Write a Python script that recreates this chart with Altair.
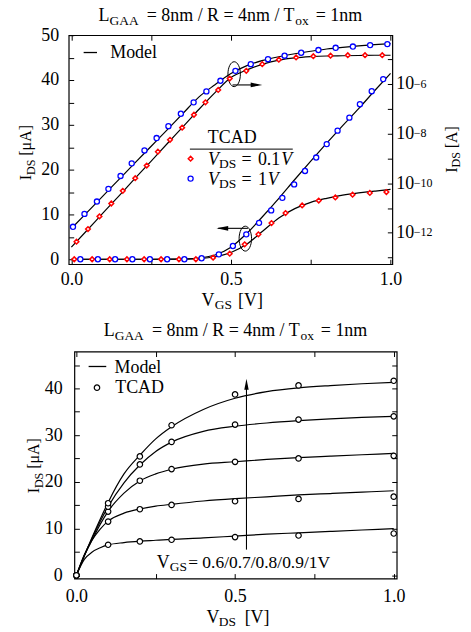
import altair as alt
import pandas as pd

FONT = "Liberation Serif"
RED = "#ff0000"
BLUE = "#0000ff"

# ---------------- top panel: I_DS - V_GS ----------------
# TCAD, V_DS = 0.1 V, linear axis [uA]
vgs_lin_01 = [0.009, 0.065, 0.120, 0.174, 0.228, 0.281, 0.337, 0.390, 0.444, 0.496,
              0.543, 0.586, 0.627, 0.671, 0.723, 0.775, 0.827, 0.881, 0.935, 0.987]
ids_lin_01 = [0, 0, 0, 0, 0, 0, 0, 0, 0.36, 1.24,
              3.33, 5.56, 8.07, 10.3, 12.0, 13.1, 13.8, 14.4, 14.8, 15.0]
# TCAD, V_DS = 1 V, linear axis [uA]
vgs_lin_1 = [0.028, 0.083, 0.137, 0.191, 0.246, 0.300, 0.354, 0.408, 0.462, 0.506, 0.548,
             0.588, 0.626, 0.661, 0.698, 0.732, 0.767, 0.800, 0.834, 0.871, 0.904, 0.941, 0.977]
ids_lin_1 = [0, 0, 0, 0, 0, 0, 0, 0.22, 1.1, 2.96, 5.56,
             8.13, 10.9, 13.7, 16.7, 19.7, 22.7, 25.7, 28.7, 31.6, 34.6, 37.5, 40.2]
# TCAD, V_DS = 0.1 V, log axis (log10 of I_DS [A])
vgs_log_01 = [0.016, 0.052, 0.088, 0.125, 0.161, 0.200, 0.236, 0.271, 0.309, 0.347, 0.384, 0.420,
              0.460, 0.496, 0.548, 0.598, 0.650, 0.704, 0.758, 0.812, 0.866, 0.920, 0.974]
exp_log_01 = [-12.36, -11.85, -11.34, -10.82, -10.31, -9.80, -9.29, -8.73, -8.25, -7.76, -7.24, -6.74,
              -6.24, -5.78, -5.47, -5.20, -5.02, -4.93, -4.88, -4.86, -4.84, -4.84, -4.84]
# TCAD, V_DS = 1 V, log axis
vgs_log_1 = [0.005, 0.041, 0.080, 0.116, 0.154, 0.189, 0.229, 0.267, 0.304, 0.343, 0.383, 0.423,
             0.467, 0.514, 0.562, 0.616, 0.668, 0.720, 0.774, 0.828, 0.882, 0.936, 0.990]
exp_log_1 = [-11.76, -11.24, -10.74, -10.23, -9.71, -9.20, -8.68, -8.18, -7.70, -7.20, -6.74, -6.30,
             -5.87, -5.47, -5.20, -5.00, -4.86, -4.74, -4.63, -4.54, -4.49, -4.43, -4.39]
# model curves
vgs_model = [0.0, 0.05, 0.1, 0.15, 0.2, 0.25, 0.3, 0.35, 0.4, 0.45, 0.5,
             0.55, 0.6, 0.65, 0.7, 0.75, 0.8, 0.85, 0.9, 0.95, 1.0]
model_lin_01 = [0, 0, 0, 0, 0, 0, 0, 0.03, 0.15, 0.55, 1.5,
                3.4, 6.3, 9.2, 11.3, 12.7, 13.6, 14.3, 14.8, 15.2, 15.6]
model_lin_1 = [0, 0, 0, 0, 0, 0, 0.02, 0.07, 0.28, 0.95, 2.7,
               5.8, 9.6, 13.6, 17.8, 21.9, 25.9, 29.8, 33.6, 37.6, 41.5]
model_exp_01 = [-12.58, -11.89, -11.19, -10.50, -9.80, -9.11, -8.41, -7.72, -7.02, -6.35, -5.74,
                -5.43, -5.20, -5.04, -4.95, -4.90, -4.87, -4.86, -4.85, -4.84, -4.84]
model_exp_1 = [-11.83, -11.17, -10.50, -9.84, -9.17, -8.51, -7.85, -7.18, -6.52, -6.03, -5.58,
               -5.26, -5.05, -4.90, -4.78, -4.68, -4.59, -4.52, -4.46, -4.41, -4.37]
log_label_values = [1e-6, 1e-8, 1e-10, 1e-12]
log_label_exps = ["\u22126", "\u22128", "\u221210", "\u221212"]

# ---------------- bottom panel: I_DS - V_DS ----------------
vds_tcad = [0.0, 0.1, 0.2, 0.3, 0.5, 0.7, 1.0]
ids_tcad_06 = [0, 6.54, 7.25, 7.61, 8.18, 8.52, 8.95]
ids_tcad_07 = [0, 11.5, 14.15, 15.07, 15.86, 16.35, 16.84]
ids_tcad_08 = [0, 13.64, 20.25, 22.74, 24.29, 25.02, 25.57]
ids_tcad_09 = [0, 14.70, 23.74, 28.56, 32.26, 33.33, 34.03]
ids_tcad_10 = [0, 15.43, 25.45, 32.12, 38.72, 40.64, 41.64]
vds_model = [0, 0.025, 0.05, 0.075, 0.1, 0.15, 0.2, 0.25, 0.3, 0.4, 0.5, 0.6, 0.7, 0.8, 0.9, 1.0]
model_06 = [0, 3.4, 5.0, 5.9, 6.5, 7.0, 7.3, 7.5, 7.7, 8.0, 8.4, 8.8, 9.1, 9.4, 9.7, 10.0]
model_07 = [0, 4.4, 7.6, 9.9, 11.6, 13.3, 14.2, 14.8, 15.2, 15.9, 16.4, 16.8, 17.2, 17.5, 17.8, 18.1]
model_08 = [0, 4.2, 7.6, 10.9, 13.7, 17.6, 20.2, 21.7, 22.7, 23.8, 24.3, 24.8, 25.2, 25.5, 25.8, 26.1]
model_09 = [0, 4.2, 8.0, 11.5, 14.7, 19.8, 23.6, 26.5, 28.5, 30.8, 31.9, 32.6, 33.1, 33.5, 33.8, 34.0]
model_10 = [0, 4.2, 8.2, 12.0, 15.6, 21.7, 25.7, 29.2, 31.8, 35.5, 37.9, 39.3, 40.1, 40.6, 41.0, 41.3]
vgs_labels = ["0.6", "0.7", "0.8", "0.9", "1.0"]

# ---------------- helpers ----------------
ONE = pd.DataFrame({"k": [0]})
ELLIPSE = "M0,-1A0.5,1,0,1,1,0,1A0.5,1,0,1,1,0,-1Z"
HEAD_R = "M-1,-0.4L1,0L-1,0.4Z"
HEAD_L = "M1,-0.4L-1,0L1,0.4Z"
HEAD_U = "M-0.4,1L0,-1L0.4,1Z"


def txt(s, x, y, size=18, style="normal", angle=0, align="left", baseline="alphabetic"):
    return alt.Chart(ONE).mark_text(
        text=s, font=FONT, fontSize=size, fontStyle=style, angle=angle,
        align=align, baseline=baseline, color="black"
    ).encode(x=alt.value(x), y=alt.value(y))


def hline(x1, x2, y, w=1.2):
    return alt.Chart(ONE).mark_rule(color="black", strokeWidth=w).encode(
        x=alt.value(x1), x2=alt.value(x2), y=alt.value(y))


def sym(x, y, shape, size, stroke, sw):
    return alt.Chart(ONE).mark_point(
        shape=shape, size=size, filled=False, fill="white", fillOpacity=1,
        stroke=stroke, strokeWidth=sw, opacity=1
    ).encode(x=alt.value(x), y=alt.value(y))


AX = dict(domain=False, grid=False, title=None, tickColor="black", tickWidth=1, tickSize=5,
          offset=-5, labelFont=FONT, labelFontSize=18, labelColor="black",
          labelFlush=False, labelOverlap=False)
XLAB = "datum.value % 0.5 == 0 ? format(datum.value, '.1f') : ''"
YLAB = "datum.value % 10 == 0 ? datum.label : ''"
XTICKS = [0, 0.25, 0.5, 0.75, 1.0]

# ================= top panel =================
X_TOP = alt.Scale(domain=[-0.0084, 1.0056], nice=False, zero=False)
Y_LIN_TOP = alt.Scale(domain=[-1.11, 50], nice=False, zero=False)
Y_LOG_TOP = alt.Scale(type="log", domain=[10 ** -13.269, 10 ** -4.032], nice=False)

ax_tb = alt.Axis(orient="bottom", values=XTICKS, labelExpr=XLAB, labelBaseline="alphabetic",
                 labelPadding=20.7, **AX)
ax_tl = alt.Axis(orient="left", values=list(range(0, 51, 5)), labelExpr=YLAB,
                 labelBaseline="middle", labelPadding=10, **AX)
ax_tt = alt.Axis(orient="top", values=XTICKS, labels=False, **AX)
ax_tr = alt.Axis(orient="right", values=[10.0 ** k for k in range(-13, -4)],
                 labelExpr="abs(round(log(datum.value) / LN10)) % 2 == 0 ? '10' : ''",
                 labelAlign="left", labelBaseline="middle", labelPadding=3.5, **AX)

n = len(vgs_model)
lin_model_df = pd.DataFrame({"v": vgs_model * 2, "i": model_lin_01 + model_lin_1,
                             "s": ["0.1"] * n + ["1"] * n})
log_model_df = pd.DataFrame({"v": vgs_model * 2,
                             "i": [10 ** e for e in model_exp_01 + model_exp_1],
                             "s": ["0.1"] * n + ["1"] * n})

anchor = alt.Chart(ONE).mark_rect(opacity=0).encode(
    x=alt.value(-68.3), x2=alt.value(402.7), y=alt.value(-33.3), y2=alt.value(598.7))

lin_model = alt.Chart(lin_model_df).mark_line(color="black", strokeWidth=1.2, interpolate="monotone").encode(
    x=alt.X("v:Q", scale=X_TOP, axis=ax_tb), y=alt.Y("i:Q", scale=Y_LIN_TOP, axis=ax_tl), detail="s:N")
log_model = alt.Chart(log_model_df).mark_line(color="black", strokeWidth=1.2, interpolate="monotone").encode(
    x=alt.X("v:Q", scale=X_TOP, axis=ax_tt), y=alt.Y("i:Q", scale=Y_LOG_TOP, axis=ax_tr), detail="s:N")


def top_pts(xs, ys, yscale, shape, size, color, sw):
    return alt.Chart(pd.DataFrame({"v": xs, "i": ys})).mark_point(
        shape=shape, size=size, filled=False, fill="white", fillOpacity=1,
        stroke=color, strokeWidth=sw, opacity=1
    ).encode(x=alt.X("v:Q", scale=X_TOP, axis=None), y=alt.Y("i:Q", scale=yscale, axis=None))


p_lin01 = top_pts(vgs_lin_01, ids_lin_01, Y_LIN_TOP, "diamond", 22, RED, 1.5)
p_lin1 = top_pts(vgs_lin_1, ids_lin_1, Y_LIN_TOP, "circle", 26, BLUE, 1.3)
p_log01 = top_pts(vgs_log_01, [10 ** e for e in exp_log_01], Y_LOG_TOP, "diamond", 22, RED, 1.5)
p_log1 = top_pts(vgs_log_1, [10 ** e for e in exp_log_1], Y_LOG_TOP, "circle", 26, BLUE, 1.3)

# annotations (ellipses and arrows, in data coordinates of the linear axis)
ellipses = alt.Chart(pd.DataFrame({"v": [0.510, 0.545], "i": [41.3, 4.6]})).mark_point(
    shape=ELLIPSE, size=625, filled=False, stroke="black", strokeWidth=1, opacity=1
).encode(x=alt.X("v:Q", scale=X_TOP, axis=None), y=alt.Y("i:Q", scale=Y_LIN_TOP, axis=None))
arrow_lines = alt.Chart(pd.DataFrame({"v": [0.505, 0.553], "v2": [0.585, 0.46], "i": [38.9, 6.9]})).mark_rule(
    color="black", strokeWidth=1.1
).encode(x=alt.X("v:Q", scale=X_TOP, axis=None), x2="v2:Q", y=alt.Y("i:Q", scale=Y_LIN_TOP, axis=None))
head_r = alt.Chart(pd.DataFrame({"v": [0.580], "i": [38.9]})).mark_point(
    shape=HEAD_R, size=137, filled=True, color="black", opacity=1
).encode(x=alt.X("v:Q", scale=X_TOP, axis=None), y=alt.Y("i:Q", scale=Y_LIN_TOP, axis=None))
head_l = alt.Chart(pd.DataFrame({"v": [0.473], "i": [6.9]})).mark_point(
    shape=HEAD_L, size=137, filled=True, color="black", opacity=1
).encode(x=alt.X("v:Q", scale=X_TOP, axis=None), y=alt.Y("i:Q", scale=Y_LIN_TOP, axis=None))

exp_labels = alt.Chart(pd.DataFrame({"val": log_label_values, "lab": log_label_exps})).mark_text(
    font=FONT, fontSize=12, align="left", baseline="alphabetic", dy=3.7, color="black"
).encode(x=alt.value(346.5), y=alt.Y("val:Q", scale=Y_LOG_TOP, axis=None), text="lab:N")

top_text = [
    # title
    txt("L", 30, -14), txt("GAA", 41, -10.5, 13.5), txt("= 8nm / R = 4nm / T", 78.4, -14),
    txt("ox", 227.6, -10.5, 13.5), txt("= 1nm", 248, -14),
    # x title
    txt("V", 133.4, 271.7), txt("GS", 146.7, 275.2, 13.5), txt("[V]", 170, 271.7),
    # left y title
    txt("I", -37.6, 145.6, 16, angle=270), txt("DS", -34.1, 140.3, 12, angle=270),
    txt("[\u03bcA]", -37.6, 121.0, 16, angle=270),
    # right y title
    txt("I", 389.7, 138.1, 16, angle=270), txt("DS", 393.2, 132.8, 12, angle=270),
    txt("[A]", 389.7, 113.5, 16, angle=270),
    # model legend
    hline(15, 28.4, 17.4, 1.3), txt("Model", 41.7, 22.4),
    # TCAD legend
    txt("TCAD", 164.2, 108.4, align="center"), hline(121.7, 225, 114.4, 1.0),
    sym(122.4, 124, "diamond", 22, RED, 1.5), sym(122.4, 144, "circle", 26, BLUE, 1.3),
    txt("V", 140, 130, style="italic"), txt("DS", 151, 133.5, 13.5), txt("=", 173.4, 130),
    txt("0.1", 190, 130), txt("V", 213.4, 130, style="italic"),
    txt("V", 140, 150, style="italic"), txt("DS", 151, 153.5, 13.5), txt("=", 173.4, 150),
    txt("1", 190, 150), txt("V", 200, 150, style="italic"),
]

top = alt.layer(
    anchor, lin_model, log_model, ellipses, arrow_lines, head_r, head_l,
    p_lin01, p_lin1, p_log01, p_log1, exp_labels, *top_text
).resolve_scale(y="independent").resolve_axis(x="independent", y="independent").properties(
    width=325, height=230)

# ================= bottom panel =================
X_BOT = alt.Scale(domain=[-0.0063, 1.0094], nice=False, zero=False)
Y_BOT = alt.Scale(domain=[-0.70, 47.89], nice=False, zero=False)

ax_bb = alt.Axis(orient="bottom", values=XTICKS, labelExpr=XLAB, labelBaseline="alphabetic",
                 labelPadding=22.7, **AX)
ax_bl = alt.Axis(orient="left", values=list(range(0, 46, 5)), labelExpr=YLAB,
                 labelBaseline="middle", labelPadding=12.3, **AX)
ax_bt = alt.Axis(orient="top", values=XTICKS, labels=False, **AX)
ax_br = alt.Axis(orient="right", values=list(range(0, 46, 5)), labels=False, **AX)

m = len(vds_model)
out_model_df = pd.DataFrame({
    "v": vds_model * 5,
    "i": model_06 + model_07 + model_08 + model_09 + model_10,
    "g": sum([[g] * m for g in vgs_labels], []),
})
k = len(vds_tcad)
out_tcad_df = pd.DataFrame({
    "v": vds_tcad * 5,
    "i": ids_tcad_06 + ids_tcad_07 + ids_tcad_08 + ids_tcad_09 + ids_tcad_10,
    "g": sum([[g] * k for g in vgs_labels], []),
})

out_model = alt.Chart(out_model_df).mark_line(color="black", strokeWidth=1.2, interpolate="monotone").encode(
    x=alt.X("v:Q", scale=X_BOT, axis=ax_bb), y=alt.Y("i:Q", scale=Y_BOT, axis=ax_bl), detail="g:N")
out_tcad = alt.Chart(out_tcad_df).mark_point(
    shape="circle", size=30, filled=False, fill="white", fillOpacity=1,
    stroke="black", strokeWidth=1.2, opacity=1
).encode(x=alt.X("v:Q", scale=X_BOT, axis=ax_bt), y=alt.Y("i:Q", scale=Y_BOT, axis=ax_br))

arrow_v = alt.Chart(pd.DataFrame({"v": [0.536], "i": [5.5], "i2": [40.5]})).mark_rule(
    color="black", strokeWidth=1.1
).encode(x=alt.X("v:Q", scale=X_BOT, axis=None), y=alt.Y("i:Q", scale=Y_BOT, axis=None), y2="i2:Q")
head_u = alt.Chart(pd.DataFrame({"v": [0.536], "i": [40.9]})).mark_point(
    shape=HEAD_U, size=121, filled=True, color="black", opacity=1
).encode(x=alt.X("v:Q", scale=X_BOT, axis=None), y=alt.Y("i:Q", scale=Y_BOT, axis=None))

bot_text = [
    txt("L", 29.5, -15.3), txt("GAA", 40.5, -11.8, 13.5), txt("= 8nm / R = 4nm / T", 77.9, -15.3),
    txt("ox", 227.1, -11.8, 13.5), txt("= 1nm", 247.5, -15.3),
    txt("V", 132.7, 272.3), txt("DS", 145, 275.8, 13.5), txt("[V]", 171, 272.3),
    txt("I", -35.5, 142.4, 16, angle=270), txt("DS", -32.0, 137.1, 12, angle=270),
    txt("[\u03bcA]", -35.5, 117.8, 16, angle=270),
    hline(14.3, 32, 15, 1.3), txt("Model", 40.3, 21.7),
    sym(22.7, 36.3, "circle", 30, "black", 1.2), txt("TCAD", 41, 41.7),
    txt("V", 82.7, 217.3), txt("GS", 95.7, 220.8, 13.5),
    txt("= 0.6/0.7/0.8/0.9/1V", 114.3, 217.3, 17.5),
]

bottom = alt.layer(
    out_model, out_tcad, arrow_v, head_u, *bot_text
).resolve_axis(x="independent", y="independent").properties(width=323.7, height=228)

spacer = alt.Chart(ONE).mark_point(opacity=0).encode(x=alt.value(0), y=alt.value(0)).properties(
    width=1, height=228, view=alt.ViewBackground(strokeOpacity=0))

row2 = alt.hconcat(spacer, bottom, spacing=4.7, bounds="flush")
chart = alt.vconcat(top, row2, spacing=87.7, bounds="flush", padding=0).configure_view(
    stroke="black", strokeWidth=1.2)

chart.save("out.html", embed_options={"renderer": "svg", "actions": False})
